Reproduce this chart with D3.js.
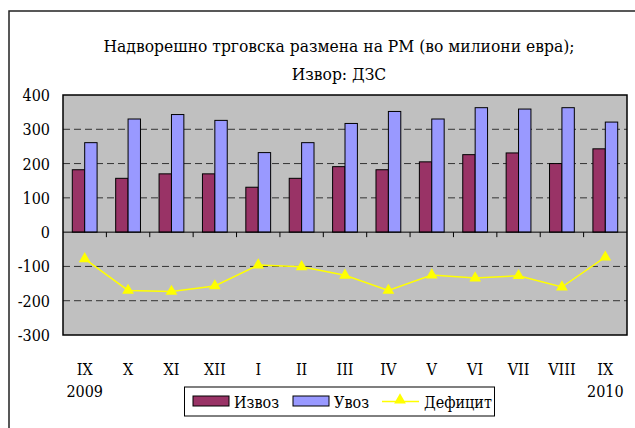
<!DOCTYPE html>
<html lang="mk">
<head>
    <meta charset="utf-8">
    <title>Надворешно трговска размена на РМ</title>
    <script src="https://d3js.org/d3.v7.min.js"></script>
    <style>
        body {
            margin: 0;
            background: #ffffff;
        }
    </style>
</head>
<body>
    <svg id="chart" width="635" height="428" font-family="'DejaVu Serif', serif" font-stretch="condensed"></svg>

    <script>
        // Data
        const months = ["IX", "X", "XI", "XII", "I", "II", "III", "IV", "V", "VI", "VII", "VIII", "IX"];
        const years = ["2009", "", "", "", "", "", "", "", "", "", "", "", "2010"];
        const izvoz = [182, 157, 170, 170, 131, 157, 191, 182, 205, 226, 231, 200, 243];
        const uvoz = [261, 330, 343, 326, 232, 261, 317, 352, 330, 363, 359, 363, 321];
        const deficit = [-78, -170, -173, -157, -96, -101, -126, -170, -125, -134, -127, -160, -73];
        const yTicks = [400, 300, 200, 100, 0, -100, -200, -300];
        const seriesNames = ["Извоз", "Увоз", "Дефицит"];

        const colors = { "Извоз": "#993366", "Увоз": "#9999ff", "Дефицит": "#ffff00" };

        const svg = d3.select("#chart");
        const plot = { left: 63, right: 627, top: 95, bottom: 335 };

        // Outer chart frame (right and bottom edges fall outside the picture)
        svg.append("rect")
            .attr("x", 9).attr("y", 11)
            .attr("width", 700).attr("height", 500)
            .attr("fill", "none")
            .attr("stroke", "#222")
            .attr("stroke-width", 1.5);

        // Title
        const title = svg.append("text")
            .attr("x", 339)
            .attr("text-anchor", "middle")
            .style("font-size", "17.3px");
        title.append("tspan").attr("x", 339).attr("y", 52)
            .text("Надворешно трговска размена на РМ (во милиони евра);");
        title.append("tspan").attr("x", 339).attr("y", 80)
            .text("Извор: ДЗС");

        const x = d3.scaleBand()
            .domain(d3.range(months.length))
            .range([plot.left, plot.right]);

        const x1 = d3.scaleBand()
            .domain(["Извоз", "Увоз"])
            .range([0, x.bandwidth()])
            .paddingOuter(0.75);

        const y = d3.scaleLinear()
            .domain([-300, 400])
            .range([plot.bottom, plot.top]);

        // Plot background
        svg.append("rect")
            .attr("x", plot.left).attr("y", plot.top)
            .attr("width", plot.right - plot.left)
            .attr("height", plot.bottom - plot.top)
            .attr("fill", "#c0c0c0");

        // Dashed gridlines
        svg.append("g")
            .selectAll("line")
            .data(yTicks.filter(d => d !== 0 && d !== 400 && d !== -300))
            .enter().append("line")
            .attr("x1", plot.left).attr("x2", plot.right)
            .attr("y1", d => y(d)).attr("y2", d => y(d))
            .attr("stroke", "#333")
            .attr("stroke-width", 1)
            .attr("stroke-dasharray", "7,4");

        // Bars
        const barData = [];
        months.forEach((m, i) => {
            barData.push({ i: i, key: "Извоз", value: izvoz[i] });
            barData.push({ i: i, key: "Увоз", value: uvoz[i] });
        });

        svg.append("g")
            .selectAll("rect")
            .data(barData)
            .enter().append("rect")
            .attr("x", d => x(d.i) + x1(d.key))
            .attr("width", x1.bandwidth())
            .attr("y", d => y(d.value))
            .attr("height", d => y(0) - y(d.value))
            .attr("fill", d => colors[d.key])
            .attr("stroke", "#000")
            .attr("stroke-width", 1);

        // Zero line with category tick marks
        svg.append("line")
            .attr("x1", plot.left).attr("x2", plot.right)
            .attr("y1", y(0)).attr("y2", y(0))
            .attr("stroke", "#000")
            .attr("stroke-width", 1);

        svg.append("g")
            .selectAll("line")
            .data(d3.range(1, months.length))
            .enter().append("line")
            .attr("x1", d => x(d)).attr("x2", d => x(d))
            .attr("y1", y(0)).attr("y2", y(0) + 5)
            .attr("stroke", "#000")
            .attr("stroke-width", 1);

        // Deficit line
        const line = d3.line()
            .x((d, i) => x(i) + x.bandwidth() / 2)
            .y(d => y(d));

        svg.append("path")
            .datum(deficit)
            .attr("d", line)
            .attr("fill", "none")
            .attr("stroke", colors["Дефицит"])
            .attr("stroke-width", 1.5);

        const tri = d3.symbol().type(d3.symbolTriangle).size(60);

        svg.append("g")
            .selectAll("path")
            .data(deficit)
            .enter().append("path")
            .attr("d", tri)
            .attr("transform", (d, i) => `translate(${x(i) + x.bandwidth() / 2},${y(d)})`)
            .attr("fill", colors["Дефицит"]);

        // Plot border
        svg.append("rect")
            .attr("x", plot.left).attr("y", plot.top)
            .attr("width", plot.right - plot.left)
            .attr("height", plot.bottom - plot.top)
            .attr("fill", "none")
            .attr("stroke", "#000")
            .attr("stroke-width", 1.5);

        // Y axis labels
        svg.append("g")
            .selectAll("text")
            .data(yTicks)
            .enter().append("text")
            .attr("x", 50)
            .attr("y", d => y(d) + 6)
            .attr("text-anchor", "end")
            .style("font-size", "16px")
            .text(d => d);

        // X axis labels
        svg.append("g")
            .selectAll("text")
            .data(months)
            .enter().append("text")
            .attr("x", (d, i) => x(i) + x.bandwidth() / 2)
            .attr("y", 375)
            .attr("text-anchor", "middle")
            .style("font-size", "16px")
            .text(d => d);

        svg.append("g")
            .selectAll("text")
            .data(years)
            .enter().append("text")
            .attr("x", (d, i) => x(i) + x.bandwidth() / 2)
            .attr("y", 397)
            .attr("text-anchor", "middle")
            .style("font-size", "16px")
            .text(d => d);

        // Legend
        const legend = svg.append("g");
        legend.append("rect")
            .attr("x", 184.5).attr("y", 387)
            .attr("width", 310).attr("height", 29)
            .attr("fill", "#fff")
            .attr("stroke", "#000")
            .attr("stroke-width", 1);

        const swatchX = [193, 293];
        ["Извоз", "Увоз"].forEach((name, k) => {
            legend.append("rect")
                .attr("x", swatchX[k]).attr("y", 396)
                .attr("width", 36).attr("height", 10)
                .attr("fill", colors[name])
                .attr("stroke", "#000")
                .attr("stroke-width", 1);
            legend.append("text")
                .attr("x", swatchX[k] + 41).attr("y", 408)
                .style("font-size", "16px")
                .text(name);
        });

        legend.append("line")
            .attr("x1", 382).attr("x2", 419)
            .attr("y1", 401.5).attr("y2", 401.5)
            .attr("stroke", colors["Дефицит"])
            .attr("stroke-width", 1.5);
        legend.append("path")
            .attr("d", tri)
            .attr("transform", "translate(400,400)")
            .attr("fill", colors["Дефицит"]);
        legend.append("text")
            .attr("x", 424).attr("y", 408)
            .style("font-size", "16px")
            .text(seriesNames[2]);
    </script>
</body>
</html>
